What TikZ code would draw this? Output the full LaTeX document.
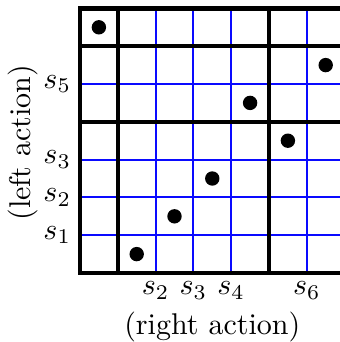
\documentclass[tikz,border=0pt]{standalone}
\usepackage{amsmath,amssymb}
\usetikzlibrary{positioning}
\definecolor{gridblue}{RGB}{10,10,255}

\begin{document}
\begin{tikzpicture}[
  x=12.6pt, y=12.6pt,
  fine/.style={draw=gridblue, line width=0.7pt},
  block/.style={line width=1.5pt},
  dot/.style={circle, fill=black, inner sep=0pt, minimum size=4.8pt},
  lab/.style={inner sep=2.8pt}
]
\useasboundingbox (-2.116,-1.825) rectangle (6.878,7.222);

% thin lines
\draw[fine] (0,1) -- (7,1);
\draw[fine] (0,2) -- (7,2);
\draw[fine] (0,3) -- (7,3);
\draw[fine] (0,5) -- (7,5);
\draw[fine] (2,0) -- (2,7);
\draw[fine] (3,0) -- (3,7);
\draw[fine] (4,0) -- (4,7);
\draw[fine] (6,0) -- (6,7);

% blocks
\draw[block] (0,0) rectangle (7,7);
\draw[block] (1,0) -- (1,7);
\draw[block] (5,0) -- (5,7);
\draw[block] (0,4) -- (7,4);
\draw[block] (0,6) -- (7,6);

% entries
\node[dot] (p1) at (0.5,6.5) {};
\node[dot] (p2) at (6.5,5.5) {};
\node[dot] (p3) at (4.5,4.5) {};
\node[dot] (p4) at (5.5,3.5) {};
\node[dot] (p5) at (3.5,2.5) {};
\node[dot] (p6) at (2.5,1.5) {};
\node[dot] (p7) at (1.5,0.5) {};

% row labels
\node[lab, anchor=east] (r5) at (0,5) {$s_5$};
\node[lab, anchor=east] (r3) at (0,3) {$s_3$};
\node[lab, anchor=east] (r2) at (0,2) {$s_2$};
\node[lab, anchor=east] (r1) at (0,1) {$s_1$};

% column labels
\node[lab, anchor=north] (c2) at (2,0) {$s_2$};
\node[lab, anchor=north] (c3) at (3,0) {$s_3$};
\node[lab, anchor=north] (c4) at (4,0) {$s_4$};
\node[lab, anchor=north] (c6) at (6,0) {$s_6$};

\node[rotate=90] (left) at (-1.52,3.45) {(left action)};
\node (right) at (3.5,-1.44) {(right action)};
\end{tikzpicture}
\end{document}
